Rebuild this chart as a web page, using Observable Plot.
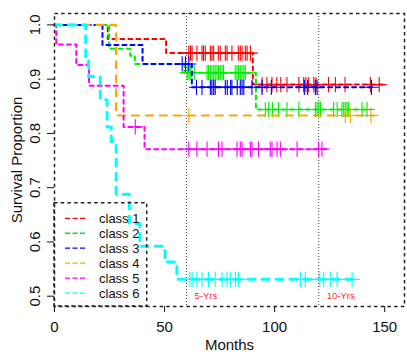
<!DOCTYPE html>
<html><head><meta charset="utf-8">
<script src="https://cdn.jsdelivr.net/npm/d3@7"></script>
<script src="https://cdn.jsdelivr.net/npm/@observablehq/plot@0.6"></script>
<style>body{margin:0;background:#fff}</style>
</head><body><div id="chart"></div>
<script>
// ---- data ----
const classes = ["class 1", "class 2", "class 3", "class 4", "class 5", "class 6"];
const colors = ["#ff0000", "#00ee00", "#0000ff", "#ffa500", "#ff00ff", "#00ffff"];

const c1Time = [0, 24.2, 50.7, 90.1, 149.3];
const c1Surv = [1, 0.974, 0.948, 0.890, 0.890];
const c1Censor = [61, 61.8, 62.5, 64.7, 67, 67.7, 68.5, 70.8, 71.5, 72.3, 74.4, 75.3, 77.6, 78.4, 80.6, 83.5, 84.4, 85.2, 86.7, 87.5, 89,
  94.3, 96.5, 98.8, 101, 102.8, 105.6, 111, 113.2, 114.2, 115.5, 117.8, 118.8, 124.5, 127.6, 132, 143.5, 147.5];

const c2Time = [0, 24.8, 34.4, 36.5, 59, 91.5, 143.8];
const c2Surv = [1, 0.956, 0.943, 0.928, 0.912, 0.844, 0.844];
const c2Censor = [60.3, 61, 61.7, 63.5, 69.3, 70, 70.8, 71.5, 72.3, 73, 73.8, 74.5, 75.3, 76.1, 76.8, 82.1, 82.9, 83.6, 84.4, 85.2, 86, 86.7,
  95.8, 97.3, 99, 101.8, 105.6, 111, 118.5, 119.3, 120.1, 120.8, 126.8, 128.4, 130.6, 131.4, 132.1, 132.9, 133.6, 139.7, 142];

const c3Time = [0, 21.8, 40, 62.4, 145.8];
const c3Surv = [1, 0.963, 0.928, 0.885, 0.885];
const c3Censor = [58, 59.5, 61, 64.5, 67, 70.8, 71.5, 72.3, 73, 77.6, 78.5, 80, 80.6, 83, 84.4, 85.2, 86, 89.7, 94.3, 98.5, 113.5, 115, 118.5, 119.3, 144];

const c4Time = [0, 28, 145.5];
const c4Surv = [1, 0.833, 0.833];
const c4Censor = [61, 132.1, 134.4, 143.8];

const c5Time = [0, 0.8, 9.9, 15.7, 31.4, 40.9, 123.5];
const c5Surv = [1, 0.964, 0.926, 0.888, 0.812, 0.771, 0.771];
const c5Censor = [36.7, 61, 64.7, 69.3, 74.5, 76.1, 82.9, 84.4, 85.2, 89, 89.7, 92.7, 98, 98.8, 101.1, 102.6, 110.2, 120, 121.5];

const c6Time = [0, 14.2, 15.5, 20.8, 23.9, 25.8, 28.0, 34.0, 38.8, 50.2, 55.6, 137.5];
const c6Surv = [1, 0.94, 0.905, 0.862, 0.812, 0.785, 0.688, 0.634, 0.592, 0.563, 0.531, 0.531];
const c6Censor = [61.5, 62.5, 64.7, 67, 70, 73, 76.1, 78.4, 79.9, 82.2, 83.6, 111.7, 113.9, 120.5, 122.3, 125.3, 128.4, 135.2];

const xTicks = [0, 50, 100, 150];
const yTicks = [0.5, 0.6, 0.7, 0.8, 0.9, 1.0];
const yearMarks = [60, 120];
const yearLabels = ["5-Yrs", "10-Yrs"];
const yearLabelY = 0.5;

// ---- build ----
const series = [
  [c1Time, c1Surv, c1Censor], [c2Time, c2Surv, c2Censor], [c3Time, c3Surv, c3Censor],
  [c4Time, c4Surv, c4Censor], [c5Time, c5Surv, c5Censor], [c6Time, c6Surv, c6Censor]
];
const lineStyle = [
  {w: 2, d: "4,4"}, {w: 2, d: "4,4"}, {w: 2, d: "4,4"},
  {w: 2.2, d: "7,7"}, {w: 2, d: "4,4"}, {w: 3, d: "7,7"}
];
function survAt(times, surv, t) {
  let v = surv[0];
  for (let i = 0; i < times.length; i++) if (times[i] <= t) v = surv[i];
  return v;
}

const curveMarks = [];
series.forEach(([tt, ss, cc], i) => {
  const pts = tt.map((t, j) => ({t, s: ss[j]}));
  curveMarks.push(Plot.line(pts, {x: "t", y: "s", curve: "step-after", stroke: colors[i],
    strokeWidth: lineStyle[i].w, strokeDasharray: lineStyle[i].d}));
  const cens = cc.map(t => ({t, s: survAt(tt, ss, t)}));
  curveMarks.push(Plot.dot(cens, {x: "t", y: "s", symbol: "plus", r: 5, stroke: colors[i], strokeWidth: 1.1}));
});

const plot = Plot.plot({
  width: 407, height: 352,
  marginLeft: 54, marginRight: 3, marginTop: 13, marginBottom: 46,
  style: {fontSize: "15px", fontFamily: "'Liberation Sans', Arial, sans-serif", background: "#fff", color: "#111"},
  x: {domain: [0, 159]},
  y: {domain: [0.481, 1.021]},
  marks: [
    Plot.ruleX(yearMarks, {stroke: "#444", strokeDasharray: "1,2", strokeWidth: 1}),
    Plot.text(yearMarks, {x: d => d, y: () => yearLabelY, text: (d, i) => yearLabels[i], textAnchor: "start", dx: 8,
      fill: "#ff2a2a", fontSize: 9.5}),
    ...curveMarks,
    Plot.frame({stroke: "#222", strokeDasharray: "3.5,3.2", strokeWidth: 1.5}),
    Plot.axisX({ticks: xTicks, tickSize: 6, tickPadding: 9, label: null, tickFormat: d => String(d)}),
    Plot.axisY({ticks: yTicks, tickSize: 7, label: null, tickFormat: () => ""}),
    Plot.text(yTicks, {y: d => d, text: d => d.toFixed(1), frameAnchor: "left", dx: -19, rotate: -90,
      textAnchor: "middle", lineAnchor: "middle"}),
    Plot.text(["Survival Proportion"], {frameAnchor: "left", dx: -37, rotate: -90, textAnchor: "middle", lineAnchor: "middle"}),
    Plot.text(["Months"], {frameAnchor: "bottom", dy: 39, textAnchor: "middle", lineAnchor: "middle"})
  ]
});

// legend (bottom-left inside the panel, like R's legend box)
const g = d3.select(plot).append("g").attr("text-anchor", "start");
g.append("rect").attr("x", 54).attr("y", 202.7).attr("width", 92.7).attr("height", 103.3)
  .attr("fill", "none").attr("stroke", "#222").attr("stroke-dasharray", "3.5,3.2").attr("stroke-width", 1.5);
classes.forEach((c, i) => {
  const y = 218.3 + i * 14.95;
  g.append("line").attr("x1", 65).attr("x2", 85).attr("y1", y).attr("y2", y)
    .attr("stroke", colors[i]).attr("stroke-width", 1.3).attr("stroke-dasharray", "5,2.5");
  g.append("text").attr("x", 99).attr("y", y).attr("dy", "0.35em").attr("font-size", 13)
    .attr("text-anchor", "start").attr("fill", "#111").text(c);
});

document.getElementById("chart").appendChild(plot);
</script>
</body></html>
